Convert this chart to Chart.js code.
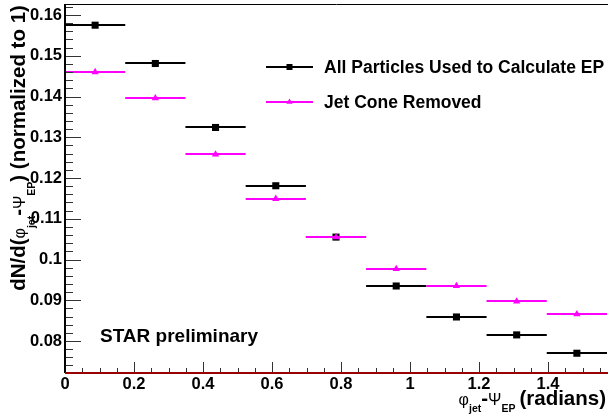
<!DOCTYPE html>
<html>
<head>
<meta charset="utf-8">
<script src="https://cdn.jsdelivr.net/npm/chart.js@4.4.0/dist/chart.umd.min.js"></script>
<style>
  html, body { margin: 0; padding: 0; background: #fff; }
  #wrap { width: 608px; height: 416px; }
</style>
</head>
<body>
<div id="wrap"><canvas id="phiChart" width="608" height="416"></canvas></div>
<script>
// phi_jet - Psi_EP bins: pi/18 wide over [0, pi/2]
const binCenters = [0.0873, 0.2618, 0.4363, 0.6109, 0.7854, 0.9599, 1.1345, 1.3090, 1.4835];
const binHalfWidth = 0.0873;

const allParticles = [0.1575, 0.1481, 0.1324, 0.1181, 0.1055, 0.0935, 0.0859, 0.0815, 0.0770];
const jetConeRemoved = [0.1460, 0.1396, 0.1258, 0.1149, 0.1055, 0.0977, 0.0935, 0.0897, 0.0866];

const xTickValues = [0, 0.2, 0.4, 0.6, 0.8, 1.0, 1.2, 1.4];
const xTickLabels = ['0', '0.2', '0.4', '0.6', '0.8', '1', '1.2', '1.4'];
const yTickValues = [0.08, 0.09, 0.10, 0.11, 0.12, 0.13, 0.14, 0.15, 0.16];
const yTickLabels = ['0.08', '0.09', '0.1', '0.11', '0.12', '0.13', '0.14', '0.15', '0.16'];

const FAMILY = '"Liberation Sans", Arial, sans-serif';
const X_MIN = 0, X_MAX = 1.5708;
const Y_MIN = 0.07215, Y_MAX = 0.1627;

function toPoints(values) {
    return values.map((v, i) => ({ x: binCenters[i], y: v }));
}

// horizontal bars spanning each bin, drawn under the markers
const binBars = {
    id: 'binBars',
    beforeDatasetDraw(chart, args) {
        const ds = chart.data.datasets[args.index];
        const { ctx, scales: { x, y } } = chart;
        ctx.save();
        ctx.strokeStyle = ds.borderColor;
        ctx.lineWidth = 2;
        ds.data.forEach(p => {
            const py = Math.round(y.getPixelForValue(p.y));
            ctx.beginPath();
            ctx.moveTo(x.getPixelForValue(p.x - binHalfWidth), py);
            ctx.lineTo(x.getPixelForValue(p.x + binHalfWidth), py);
            ctx.stroke();
        });
        ctx.restore();
    }
};

// frame, axis lines and inward ticks
const frameTicks = {
    id: 'frameTicks',
    afterDatasetsDraw(chart) {
        const { ctx, chartArea: a, scales: { x, y } } = chart;
        ctx.save();
        ctx.strokeStyle = '#000';
        ctx.lineWidth = 1;
        ctx.beginPath();
        ctx.moveTo(a.left, a.top + 0.5);
        ctx.lineTo(chart.width, a.top + 0.5);
        ctx.stroke();

        ctx.strokeStyle = '#333';
        ctx.beginPath();
        for (let v = 0.074; v < Y_MAX; v += 0.002) {
            const py = Math.round(y.getPixelForValue(v)) + 0.5;
            const major = Math.abs(v * 100 - Math.round(v * 100)) < 1e-6;
            ctx.moveTo(a.left, py);
            ctx.lineTo(a.left + (major ? 16 : 8), py);
        }
        for (let v = 0.05; v < X_MAX; v += 0.05) {
            const px = Math.round(x.getPixelForValue(v)) + 0.5;
            const major = Math.abs(v * 5 - Math.round(v * 5)) < 1e-6;
            ctx.moveTo(px, a.bottom);
            ctx.lineTo(px, a.bottom - (major ? 11 : 5));
        }
        ctx.stroke();

        ctx.strokeStyle = '#000';
        ctx.lineWidth = 2;
        ctx.beginPath();
        ctx.moveTo(a.left, a.top);
        ctx.lineTo(a.left, a.bottom);
        ctx.stroke();

        ctx.strokeStyle = '#990000';
        ctx.beginPath();
        ctx.moveTo(a.left, a.bottom);
        ctx.lineTo(chart.width, a.bottom);
        ctx.stroke();
        ctx.restore();
    }
};

// draw a run of text pieces, some as subscripts
function drawPieces(ctx, pieces, startX, baseY) {
    let cx = startX;
    pieces.forEach(p => {
        ctx.font = p.font;
        cx += p.gap || 0;
        ctx.fillText(p.text, cx, baseY + (p.dy || 0));
        cx += ctx.measureText(p.text).width;
    });
}
function piecesWidth(ctx, pieces) {
    return pieces.reduce((w, p) => { ctx.font = p.font; return w + (p.gap || 0) + ctx.measureText(p.text).width; }, 0);
}

const mainFont = 'bold 20.5px ' + FAMILY;
const greekFont = '16px ' + FAMILY;
const subFont = 'bold 10.5px ' + FAMILY;

const yTitle = [
    { text: 'dN/d(', font: mainFont },
    { text: 'φ', font: greekFont },
    { text: 'jet', font: subFont, dy: 10 },
    { text: '-', font: mainFont },
    { text: 'Ψ', font: greekFont },
    { text: 'EP', font: subFont, dy: 10 },
    { text: ') (normalized to 1)', font: mainFont }
];
const xTitle = [
    { text: 'φ', font: greekFont },
    { text: 'jet', font: subFont, dy: 7 },
    { text: '-', font: mainFont },
    { text: 'Ψ', font: greekFont },
    { text: 'EP', font: subFont, dy: 7 },
    { text: '(radians)', font: mainFont, gap: 4 }
];

const annotations = {
    id: 'annotations',
    afterDraw(chart) {
        const { ctx } = chart;
        ctx.save();
        ctx.fillStyle = '#000';
        ctx.textBaseline = 'alphabetic';
        ctx.textAlign = 'left';

        // axis titles
        ctx.save();
        ctx.translate(18, 148);
        ctx.rotate(-Math.PI / 2);
        drawPieces(ctx, yTitle, -piecesWidth(ctx, yTitle) / 2, 7);
        ctx.restore();
        drawPieces(ctx, xTitle, 606 - piecesWidth(ctx, xTitle), 405);

        // legend
        chart.data.datasets.forEach((ds, i) => {
            const ly = 67 + i * 35;
            ctx.strokeStyle = ds.borderColor;
            ctx.lineWidth = 2;
            ctx.beginPath();
            ctx.moveTo(266, ly);
            ctx.lineTo(313, ly);
            ctx.stroke();
            ctx.fillStyle = ds.backgroundColor;
            Chart.helpers.drawPoint(ctx, {
                pointStyle: ds.pointStyle, radius: ds.pointRadius * 0.85, rotation: 0, borderWidth: 0
            }, 289.5, ly);
            ctx.fillStyle = '#000';
            ctx.font = 'bold 17.5px ' + FAMILY;
            ctx.textBaseline = 'middle';
            ctx.fillText(ds.label, 324, ly + 1);
            ctx.textBaseline = 'alphabetic';
        });

        ctx.font = 'bold 19px ' + FAMILY;
        ctx.fillText('STAR preliminary', 100, 342);
        ctx.restore();
    }
};

const tickFont = { family: FAMILY, size: 16.5, weight: 'bold' };

const phiChart = new Chart(document.getElementById('phiChart'), {
    type: 'scatter',
    data: {
        datasets: [{
            label: 'All Particles Used to Calculate EP',
            data: toPoints(allParticles),
            borderColor: '#000000',
            backgroundColor: '#000000',
            pointStyle: 'rect',
            pointRadius: 5,
            pointBorderWidth: 0,
            order: 2
        }, {
            label: 'Jet Cone Removed',
            data: toPoints(jetConeRemoved),
            borderColor: '#ff00ff',
            backgroundColor: '#ff00ff',
            pointStyle: 'triangle',
            pointRadius: 4.2,
            pointBorderWidth: 0,
            order: 1
        }]
    },
    options: {
        responsive: false,
        animation: false,
        devicePixelRatio: 1,
        layout: { autoPadding: false, padding: { top: 4, right: 1, left: 0, bottom: 0 } },
        plugins: {
            legend: { display: false },
            tooltip: { enabled: false }
        },
        scales: {
            x: {
                type: 'linear',
                min: X_MIN,
                max: X_MAX,
                grid: { display: false, drawTicks: false },
                border: { display: false },
                ticks: {
                    padding: 2,
                    color: '#000',
                    font: tickFont,
                    autoSkip: false,
                    maxRotation: 0,
                    callback: v => xTickLabels[xTickValues.indexOf(v)]
                },
                afterBuildTicks: s => { s.ticks = xTickValues.map(v => ({ value: v })); },
                afterFit: s => { s.height = 43; s.paddingLeft = 0; s.paddingRight = 0; }
            },
            y: {
                min: Y_MIN,
                max: Y_MAX,
                grid: { display: false, drawTicks: false },
                border: { display: false },
                ticks: {
                    padding: 3,
                    color: '#000',
                    font: tickFont,
                    autoSkip: false,
                    callback: v => yTickLabels[yTickValues.indexOf(v)]
                },
                afterBuildTicks: s => { s.ticks = yTickValues.map(v => ({ value: v })); },
                afterFit: s => { s.width = 65; s.paddingTop = 0; s.paddingBottom = 0; }
            }
        }
    },
    plugins: [binBars, frameTicks, annotations]
});
</script>
</body>
</html>
